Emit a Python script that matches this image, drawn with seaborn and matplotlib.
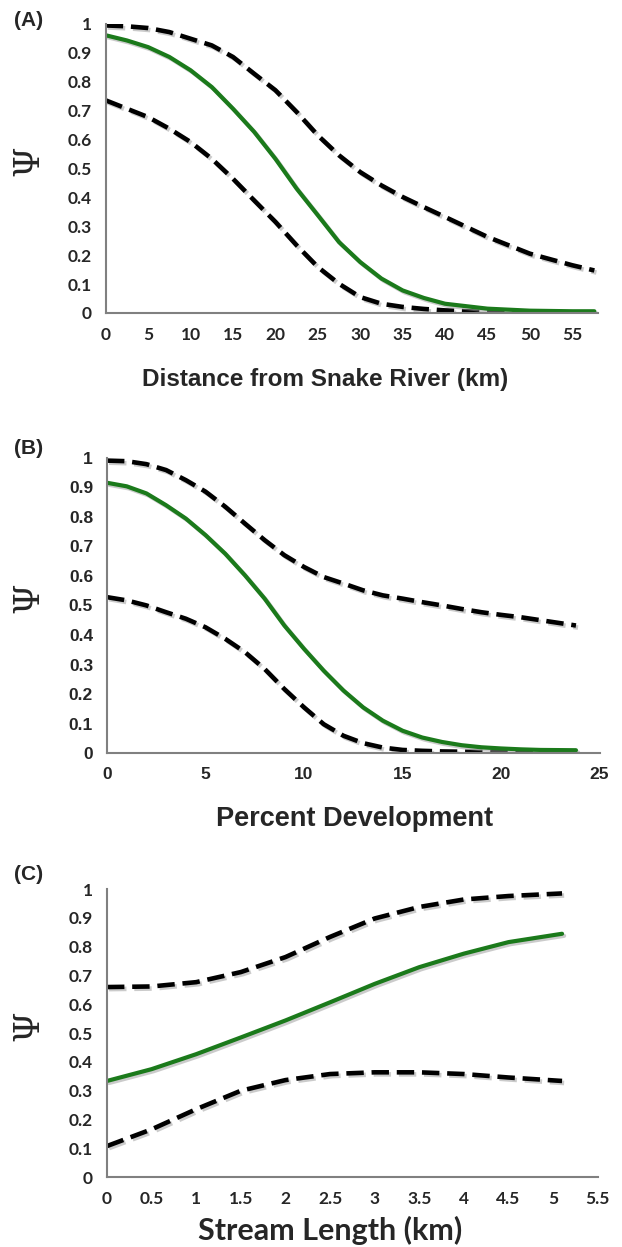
import matplotlib
matplotlib.use('Agg')
import matplotlib.pyplot as plt
import matplotlib.patheffects as pe
import seaborn as sns

# (A) distance from Snake River
a_x = [0, 2.5, 5, 7.5, 10, 12.5, 15, 17.5, 20, 22.5, 25, 27.5, 30, 32.5, 35, 37.5, 40, 45, 50, 55, 57.6]
a_mid = [0.96, 0.942, 0.919, 0.885, 0.839, 0.781, 0.706, 0.626, 0.533, 0.43, 0.338, 0.245, 0.176,
         0.119, 0.078, 0.052, 0.032, 0.015, 0.008, 0.006, 0.006]
a_up = [0.994, 0.991, 0.985, 0.971, 0.948, 0.925, 0.885, 0.827, 0.77, 0.695, 0.614, 0.545, 0.487,
        0.441, 0.401, 0.366, 0.332, 0.263, 0.205, 0.165, 0.147]
a_lo = [0.735, 0.706, 0.677, 0.637, 0.591, 0.533, 0.464, 0.389, 0.315, 0.234, 0.159, 0.101, 0.055,
        0.032, 0.021, 0.014, 0.009, 0.003, 0.002, 0.002, 0.002]

# (B) percent development
b_x = [0, 1, 2, 3, 4, 5, 6, 7, 8, 9, 10, 11, 12, 13, 14, 15, 16, 17, 18, 19, 20, 21, 22, 23.8]
b_mid = [0.915, 0.903, 0.879, 0.839, 0.794, 0.738, 0.675, 0.602, 0.523, 0.432, 0.353, 0.279, 0.212,
         0.155, 0.11, 0.076, 0.053, 0.038, 0.027, 0.02, 0.016, 0.013, 0.011, 0.01]
b_up = [0.99, 0.988, 0.978, 0.958, 0.924, 0.885, 0.834, 0.777, 0.721, 0.67, 0.63, 0.596, 0.574,
        0.551, 0.534, 0.523, 0.511, 0.5, 0.488, 0.477, 0.468, 0.46, 0.45, 0.432]
b_lo = [0.528, 0.517, 0.5, 0.477, 0.455, 0.426, 0.387, 0.342, 0.285, 0.217, 0.155, 0.098, 0.059,
        0.034, 0.019, 0.011, 0.008, 0.006, 0.005, 0.004, 0.003, 0.003, 0.003, 0.003]

# (C) stream length
c_x = [0, 0.5, 1, 1.5, 2, 2.5, 3, 3.5, 4, 4.5, 5.1]
c_mid = [0.334, 0.375, 0.427, 0.485, 0.544, 0.607, 0.671, 0.729, 0.776, 0.816, 0.845]
c_up = [0.66, 0.662, 0.677, 0.712, 0.764, 0.834, 0.898, 0.938, 0.964, 0.976, 0.985]
c_lo = [0.108, 0.166, 0.236, 0.3, 0.337, 0.358, 0.364, 0.364, 0.358, 0.346, 0.334]

sns.set_style('white')

W, H = 622, 1247
fig = plt.figure(figsize=(6.22, 12.47), dpi=100)

# label, data, axes rect, xmax, ticks, tick labels, xlabel, fonts, sizes, pixel positions
panels = [
    ('(A)', a_x, a_mid, a_up, a_lo, [0.170, 0.749, 0.791, 0.232], 58, list(range(0, 56, 5)),
     [str(v) for v in range(0, 56, 5)], 'Distance from Snake River (km)', 'Lato', 'Liberation Sans', 17.5,
     20, 325, 379),
    ('(B)', b_x, b_mid, b_up, b_lo, [0.172, 0.396, 0.792, 0.237], 25, list(range(0, 26, 5)),
     [str(v) for v in range(0, 26, 5)], 'Percent Development', 'Liberation Sans', 'Liberation Sans', 19.5,
     449, 355, 819),
    ('(C)', c_x, c_mid, c_up, c_lo, [0.172, 0.056, 0.789, 0.231], 5.5,
     [0, 0.5, 1, 1.5, 2, 2.5, 3, 3.5, 4, 4.5, 5, 5.5],
     ['0', '0.5', '1', '1.5', '2', '2.5', '3', '3.5', '4', '4.5', '5', '5.5'],
     'Stream Length (km)', 'Lato', 'Lato', 22, 875, 330, 1230),
]

shadow = [pe.SimpleLineShadow(offset=(1.5, -1.5), shadow_color='#999999', alpha=0.5), pe.Normal()]

for (lab, xs, mid, up, lo, pos, xmax, xt, xtl, xlab, tickfont, labfont, labsize,
     lab_y, xl_x, xl_y) in panels:
    ax = fig.add_axes(pos)
    for ys in (up, lo):
        sns.lineplot(x=xs, y=ys, ax=ax, color='black', linewidth=3.3)
        ln = ax.lines[-1]
        ln.set_dashes((3.8, 1.7))
        ln.set_path_effects(shadow)
    sns.lineplot(x=xs, y=mid, ax=ax, color='#1b7a1b', linewidth=3.0)
    ax.lines[-1].set_path_effects(shadow)

    ax.set_xlim(0, xmax)
    ax.set_ylim(0, 1)
    ax.set_xticks(xt)
    ax.set_xticklabels(xtl, fontsize=12.5, fontweight='bold', family=tickfont)
    yt = [i / 10 for i in range(11)]
    ax.set_yticks(yt)
    ax.set_yticklabels(['0'] + ['0.%d' % i for i in range(1, 10)] + ['1'],
                       fontsize=12.5, fontweight='bold', family=tickfont)
    for s in ['top', 'right']:
        ax.spines[s].set_visible(False)
    for s in ['left', 'bottom']:
        ax.spines[s].set_color('#808080')
        ax.spines[s].set_linewidth(1.5)
    ax.tick_params(direction='out', length=5, width=1.2, color='#808080', pad=5)
    ax.set_xlabel('')
    ax.set_ylabel('')

    fig.text(xl_x / W, 1 - xl_y / H, xlab, fontsize=labsize, fontweight='bold', family=labfont,
             ha='center', va='center')
    fig.text(28 / W, pos[1] + pos[3] / 2 + 0.006, 'Ψ', fontsize=25, family='DejaVu Serif',
             rotation=90, ha='center', va='center')
    fig.text(0.022, 1 - lab_y / H, lab, fontsize=15, fontweight='bold',
             family='Liberation Sans', va='center', ha='left')

fig.savefig('out.png', dpi=100)
